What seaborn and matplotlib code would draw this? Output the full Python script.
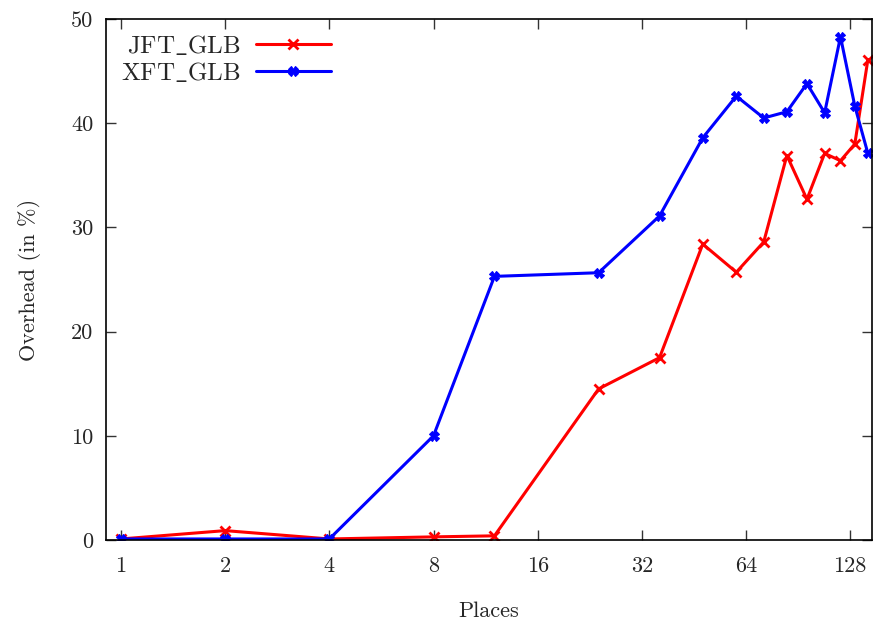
import matplotlib
matplotlib.use("Agg")
import matplotlib.pyplot as plt
import seaborn as sns
import pandas as pd
import numpy as np

places = [1, 2, 4, 8, 12, 24, 36, 48, 60, 72, 84, 96, 108, 120, 132, 144]
jft_glb = [0.1, 0.9, 0.1, 0.3, 0.4, 14.5, 17.5, 28.4, 25.7, 28.6, 36.9, 32.7, 37.1, 36.4, 38.0, 46.1]
xft_glb = [0.1, 0.1, 0.1, 10.0, 25.3, 25.65, 31.1, 38.6, 42.6, 40.5, 41.1, 43.8, 41.0, 48.3, 41.65, 37.1]
xticks = [1, 2, 4, 8, 16, 32, 64, 128]
yticks = [0, 10, 20, 30, 40, 50]

sns.set_theme(style="ticks")
plt.rcParams['font.family'] = ['cmr10', 'DejaVu Serif']
plt.rcParams['mathtext.fontset'] = 'cm'
plt.rcParams['axes.formatter.use_mathtext'] = True

fig = plt.figure(figsize=(8.73, 6.25), dpi=100)
ax = fig.add_axes([106/873, 1 - 540/625, (872 - 106)/873, (540 - 19)/625])

df = pd.DataFrame({"Places": places + places,
                   "Overhead": jft_glb + xft_glb,
                   "series": ["JFT_GLB"] * len(places) + ["XFT_GLB"] * len(places)})

sns.lineplot(data=df[df.series == "JFT_GLB"], x="Places", y="Overhead", ax=ax,
             color="#ff0000", lw=2.2, marker="x", markersize=7, mew=2,
             markeredgecolor="#ff0000", label=r"$\mathrm{JFT\_GLB}$")
sns.lineplot(data=df[df.series == "XFT_GLB"], x="Places", y="Overhead", ax=ax,
             color="#0000ff", lw=2.2, marker="X", markersize=7, mew=0.8,
             markeredgecolor="#0000ff", markerfacecolor="#0000ff",
             label=r"$\mathrm{XFT\_GLB}$")

ax.set_xscale("log", base=2)
ax.set_xlim(0.905, 148)
ax.set_ylim(0, 50)
ax.set_xticks(xticks)
ax.set_xticklabels([str(t) for t in xticks])
ax.set_yticks(yticks)
ax.set_yticklabels([str(t) for t in yticks])
ax.minorticks_off()
ax.tick_params(axis="both", direction="in", top=True, right=True, length=7, width=1,
               labelsize=16, color="#333333")
ax.tick_params(axis="x", pad=12)
ax.tick_params(axis="y", pad=9)
for s in ax.spines.values():
    s.set_linewidth(1.2)
    s.set_color("black")

ax.set_xlabel("Places", fontsize=16, labelpad=18)
ax.set_ylabel("Overhead (in %)", fontsize=16, labelpad=22)

leg = ax.legend(loc="upper left", frameon=False, markerfirst=False, fontsize=18,
                handlelength=3.0, handletextpad=0.6, borderaxespad=0.2,
                labelspacing=0.1, bbox_to_anchor=(0.0, 1.0))

fig.savefig("out.png", dpi=100)
